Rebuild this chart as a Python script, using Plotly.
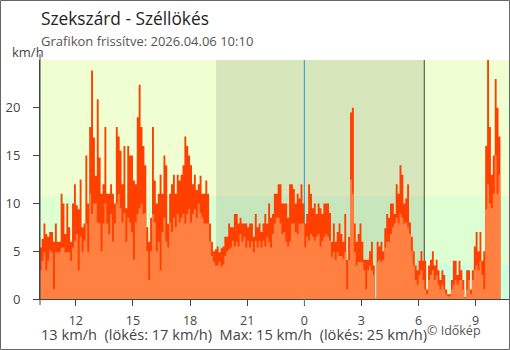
import pandas as pd
import plotly.graph_objects as go

# Wind gust (lökés) and mean wind speed, km/h, 6-minute readings from 10:06
gust = [
    5.4, 6.3, 7.9, 6.8, 6.5, 7, 7, 6, 7.9, 6, 6, 11, 10, 6.8, 10, 7.5, 6, 10, 12, 9.8, 9.4,
    12.5, 7.5, 7.9, 15, 10, 18, 23.9, 16.9, 12.9, 20.9, 14.8, 11, 12, 18, 11, 11, 12, 11, 10, 18, 17,
    15.5, 12, 16, 9.5, 16, 15, 15, 12.4, 12, 19, 22.4, 18, 16, 14, 7.5, 6, 8.5, 18, 12.4, 10, 11,
    13, 11, 15, 14, 7.9, 11, 12, 13, 11, 13, 12.4, 13, 14, 17, 16, 15, 14, 12, 13, 11.4, 12,
    12.9, 11, 11, 12.4, 11, 7.9, 6, 5, 5.2, 5.5, 4.9, 5.3, 5.5, 6.5, 6.5, 7.9, 7.5, 7.5, 8.9, 8.9, 7.9,
    8.5, 7.9, 7.9, 7.9, 7.5, 7.9, 7.9, 6.5, 8.9, 7.5, 7.9, 7, 7.9, 8.9, 7.9, 10, 8.5, 8.9, 11, 11, 12,
    12, 10, 10, 10, 8.5, 12, 12, 11.5, 10, 11, 10.5, 12, 10, 7.9, 8.9, 12, 11, 9.5, 10, 8.9, 10,
    9.5, 8.9, 10, 10, 10, 9, 6, 7.9, 6, 7, 7.9, 6.8, 6, 8.9, 4.1, 6.5, 19.5, 20, 7.9, 6, 6.8,
    7.9, 6, 4.1, 4.1, 4.1, 5, 6, 3.5, 0.1, 6, 5.5, 6, 5, 7.4, 8.9, 8.5, 10, 10, 8.9, 12, 11,
    14, 13, 10, 10.5, 12, 8, 6.5, 5, 3.5, 3, 4, 5, 4, 4, 1, 3.5, 4.1, 5, 3.5, 4.1, 3,
    2, 3, 2.5, 1, 0.5, 0.5, 2, 4, 4, 2.5, 4, 3, 2, 0.2, 3, 3, 1, 3, 5.5, 7, 5, 7, 4, 5,
    16, 25, 18, 13, 15, 23, 20, 17,
]
mean = [
    3, 4, 4.9, 3, 4, 5.1, 4.9, 1, 4.9, 4.9, 4.9, 5.4, 5.4, 4.9, 4.9, 4.9, 4, 5.4, 6.1, 6.8, 3,
    6.5, 4.9, 6.1, 7.9, 4.9, 11, 8.9, 10, 10, 8, 7.9, 5, 7.9, 10, 7.9, 6.8, 8.9, 6, 7.9, 10, 11,
    9.5, 8, 9, 6, 8.5, 8, 7, 4.1, 8, 8.9, 9.5, 10, 8.9, 9, 5, 2, 5, 8.9, 8, 5, 6,
    3, 7, 8.5, 6, 5.4, 8, 7, 8.5, 7.5, 8.9, 8, 8.5, 8.9, 7.9, 8.9, 9.4, 8, 8.9, 9.4, 8.5, 10,
    9, 8.5, 7.9, 7.9, 7.9, 6, 4.5, 3.9, 3.5, 3.5, 3.9, 3.4, 3.6, 4.5, 5, 5.2, 5.4, 6.1, 5.5, 6, 5.5,
    6.8, 6, 6.5, 5.4, 6.1, 5.4, 6, 4.9, 6.1, 5.4, 6.1, 5.4, 6.1, 5.5, 6.5, 6, 5.4, 6.8, 7.9, 8.5, 8.5,
    7.9, 6.8, 7, 6, 5.5, 6, 7.9, 7.9, 7, 6.8, 7.9, 7.9, 7.9, 5.4, 6.5, 6.1, 6.8, 6.5, 6.1, 6.5, 6.8,
    5.5, 6.1, 6.5, 6.8, 6.5, 6.1, 4.4, 4.9, 4.1, 4.9, 4.5, 4.5, 4.2, 4.9, 1, 4.1, 12.5, 11, 4.9, 3.5, 3.9,
    3.9, 3.9, 3, 1, 3, 3.5, 3, 2.5, 0.1, 3.9, 4.1, 3.9, 4.1, 5.4, 6, 6, 6.8, 7.5, 7.9, 8.5, 7.9,
    8.9, 8.5, 7.9, 8, 7.5, 6.8, 5, 3.5, 2, 1.5, 2.5, 3, 2, 1, 0.5, 2, 2.5, 3, 2, 2.5, 1.5,
    1, 1.5, 1, 0.5, 0.3, 0.3, 1, 1.5, 2, 1.5, 2, 2, 1, 0.1, 1, 2, 0.5, 2, 3, 3.5, 3, 4, 2.5, 1,
    9.4, 12, 10, 9.5, 11, 15, 11, 13,
]
start_time = "2026-04-05 10:06"
step = "6min"

tick_times = ["2026-04-05 12:00", "2026-04-05 15:00", "2026-04-05 18:00", "2026-04-05 21:00",
              "2026-04-06 00:00", "2026-04-06 03:00", "2026-04-06 06:00", "2026-04-06 09:00"]
tick_labels = ["12", "15", "18", "21", "0", "3", "6", "9"]
y_ticks = [0, 5, 10, 15, 20]

x_start, x_end = "2026-04-05 10:07", "2026-04-06 10:45"
sunset, sunrise, midnight = "2026-04-05 19:22", "2026-04-06 06:18", "2026-04-06 00:00"
# background wind bands (1 m/s and 3 m/s)
band_edges = [0, 3.6, 10.8, 25]
band_colors = ["#ccffdd", "#ddffd2", "#efffd2"]

times = pd.date_range(start_time, periods=len(gust), freq=step)
# extend the last step so the final reading gets its own column
t_ext = list(times) + [times[-1] + pd.Timedelta(step)]
g_ext = gust + [gust[-1]]
m_ext = mean + [mean[-1]]

W, H = 510, 350
ML, MR, MT, MB = 40, 1, 60, 51
PW, PH = W - ML - MR, H - MT - MB


def px(xp):
    return (xp - ML) / PW


def py(yp):
    return (H - MB - yp) / PH


fig = go.Figure()
fig.add_trace(go.Scatter(x=t_ext, y=g_ext, mode="lines", line=dict(width=0, shape="hv"),
                         fill="tozeroy", fillcolor="#ff4000", hoverinfo="skip", showlegend=False))
fig.add_trace(go.Scatter(x=t_ext, y=m_ext, mode="lines", line=dict(width=0, shape="hv"),
                         fill="tozeroy", fillcolor="#ff8040", hoverinfo="skip", showlegend=False))

shapes = []
for lo, hi, c in zip(band_edges[:-1], band_edges[1:], band_colors):
    shapes.append(dict(type="rect", xref="x domain", yref="y", x0=0, x1=1, y0=lo, y1=hi,
                       fillcolor=c, line_width=0, layer="below"))
shapes.append(dict(type="rect", xref="x", yref="y domain", x0=sunset, x1=sunrise, y0=0, y1=1,
                   fillcolor="rgba(20,10,0,0.1)", line_width=0, layer="below"))
shapes.append(dict(type="line", xref="x", yref="y domain", x0=midnight, x1=midnight, y0=0, y1=1,
                   line=dict(color="#2a95e0", width=1), layer="below"))
shapes.append(dict(type="line", xref="x", yref="y domain", x0=sunrise, x1=sunrise, y0=0, y1=1,
                   line=dict(color="#444444", width=1), layer="below"))
# blue tick at midnight under the axis
shapes.append(dict(type="line", xref="x", yref="paper", x0=midnight, x1=midnight, y0=-6 / PH, y1=0,
                   line=dict(color="#2a95e0", width=1)))
# left axis line running a little past the plot
shapes.append(dict(type="line", xref="paper", yref="paper", x0=0, x1=0, y0=-6 / PH, y1=py(54),
                   line=dict(color="#444444", width=1)))
# outer frame
shapes.append(dict(type="rect", xref="paper", yref="paper", x0=px(0.5), x1=px(509.5),
                   y0=py(349.5), y1=py(0.5), line=dict(color="#666666", width=1),
                   fillcolor="rgba(0,0,0,0)"))

FONT = "Open Sans"
nb = "\u00a0"
summary = (f"{mean[-1]:.0f} km/h{nb}{nb}(lökés: {gust[-1]:.0f} km/h){nb}{nb}"
           f"Max: {max(mean):.0f} km/h{nb}{nb}(lökés: {max(gust):.0f} km/h)")

annotations = [
    dict(text="Szekszárd - Széllökés", x=px(39), y=py(18), font=dict(size=17.3, color="#222222")),
    dict(text="Grafikon frissítve:" + nb + "2026.04.06 10:10", x=px(39), y=py(41),
         font=dict(size=13, color="#555555")),
    dict(text="km/h", x=px(10), y=py(52), font=dict(size=13, color="#444444")),
    dict(text=summary, x=px(39), y=py(334), font=dict(size=14.6, color="#444444")),
    dict(text="© Időkép", x=px(425), y=py(330), font=dict(size=12.5, color="#555555")),
]
for a in annotations:
    a.update(xref="paper", yref="paper", xanchor="left", yanchor="middle", showarrow=False)

fig.update_layout(
    width=W, height=H, margin=dict(l=ML, r=MR, t=MT, b=MB, autoexpand=False),
    paper_bgcolor="white", plot_bgcolor="#efffd2",
    font=dict(family=FONT, color="#444444"),
    shapes=shapes, annotations=annotations, showlegend=False,
    xaxis=dict(type="date", range=[x_start, x_end], tickvals=tick_times, ticktext=tick_labels,
               ticks="outside", ticklen=6, tickcolor="#444444", showline=True, linecolor="#444444",
               showgrid=False, zeroline=False, automargin=False, ticklabelstandoff=4,
               tickfont=dict(size=12.5, color="#444444")),
    yaxis=dict(range=[0, 25], tickvals=y_ticks, ticks="outside", ticklen=6, tickcolor="#444444",
               showline=True, linecolor="#444444", showgrid=False, zeroline=False,
               automargin=False, ticklabelstandoff=10, tickfont=dict(size=13, color="#444444")),
)

fig.write_html("out.html")
